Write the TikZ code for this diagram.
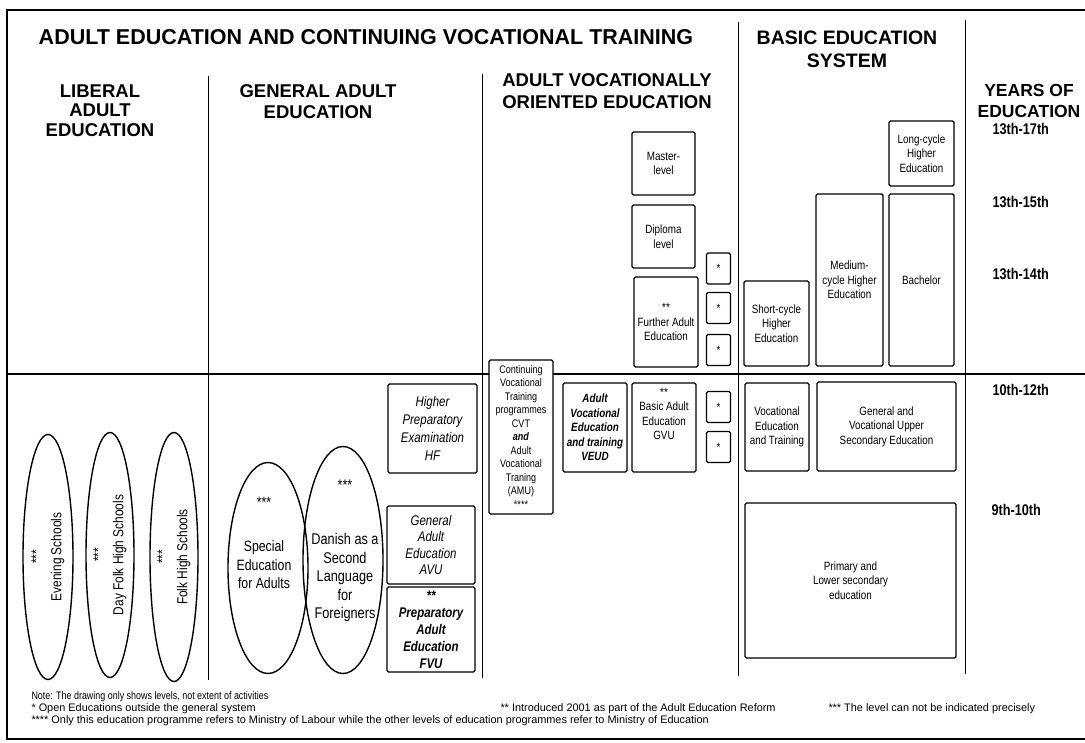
\documentclass[tikz,border=0pt]{standalone}
\usepackage{fontspec}
\setmainfont{Liberation Sans}
\newfontfamily\narrowsf[FakeStretch=0.82]{Liberation Sans}
\usetikzlibrary{shapes.geometric}
\newcommand{\fs}[2]{\fontsize{#1}{#2}\selectfont}

\begin{document}
\begin{tikzpicture}[x=1pt, y=-1pt, line width=1pt,
    heading/.style={font=\bfseries\fs{18.5}{21}, align=center, inner sep=0pt},
    box/.style={draw, fill=white, line width=1.4pt, rounded corners=1.5pt, inner sep=0pt,
      align=center, font=\narrowsf\fs{12}{14.5}},
    itbox/.style={box, font=\narrowsf\itshape\fs{14}{18}},
    bfbox/.style={box, font=\narrowsf\bfseries\itshape\fs{12}{14.5}},
    starbox/.style={box, minimum width=24, minimum height=31},
    oval/.style={draw, ellipse, line width=1.4pt, inner sep=0pt, align=center,
      font=\narrowsf\fs{14.5}{20}},
    txt/.style={align=center, inner sep=0pt, font=\narrowsf\fs{15}{18.5}},
    year/.style={anchor=west, inner sep=0pt, font=\narrowsf\bfseries\fs{15.5}{18}},
    note/.style={anchor=west, inner sep=0pt, font=\fs{10.9}{12}},
  ]
  \useasboundingbox (0,0) rectangle (1085,743);

  % frame and column rules
  \draw[line width=1.5pt] (1085,10) -- (7,10) -- (7,739) -- (1085,739);
  \draw[line width=1.2pt] (7,374) -- (1085,374);
  \draw (208,76) -- (208,680);
  \draw (482,74) -- (482,678);
  \draw (738,22) -- (738,676);
  \draw (965,20) -- (965,674);

  % headings
  \node[heading, font=\bfseries\fs{21.5}{24}] (title) at (366,37.5)
    {ADULT EDUCATION AND CONTINUING VOCATIONAL TRAINING};
  \node[heading, font=\bfseries\fs{19.5}{23}] (basic) at (847,49.5) {BASIC EDUCATION\\SYSTEM};
  \node[heading, font=\bfseries\fs{18.5}{19.5}] (lib) at (100,110.5) {LIBERAL\\ADULT\\EDUCATION};
  \node[heading] (gen) at (318,101.5) {GENERAL ADULT\\EDUCATION};
  \node[heading, font=\bfseries\fs{18.5}{22}] (voc) at (607,91.5) {ADULT VOCATIONALLY\\ORIENTED EDUCATION};
  \node[heading, font=\bfseries\fs{17.5}{21}] (years) at (1029,100.5) {YEARS OF\\EDUCATION};

  % years of education
  \node[year] (y1) at (992,129) {13th-17th};
  \node[year] (y2) at (992,202) {13th-15th};
  \node[year] (y3) at (992,274) {13th-14th};
  \node[year] (y4) at (992,390) {10th-12th};
  \node[year] (y5) at (991,510) {9th-10th};

  % liberal adult education
  \node[oval, rotate=90, minimum width=245, minimum height=50] (evening) at (48,557) {***\\Evening Schools};
  \node[oval, rotate=90, minimum width=245, minimum height=48] (dayfolk) at (110,555) {***\\Day Folk High Schools};
  \node[oval, rotate=90, minimum width=249, minimum height=48] (folk) at (174,557) {***\\Folk High Schools};

  % general adult education
  \node[oval, minimum width=80, minimum height=211] (special) at (268,568) {};
  \node[txt] (specialtxt) at (264,543) {***\\[26pt]Special\\Education\\for Adults};
  \node[oval, minimum width=80, minimum height=227] (danish) at (343,560) {};
  \node[txt, font=\narrowsf\fs{15.5}{18.5}] (danishtxt) at (345,551)
    {***\\[36pt]Danish as a\\Second\\Language\\for\\Foreigners};
  \node[itbox, minimum width=89, minimum height=89] (hf) at (432.5,428.5) {Higher\\Preparatory\\Examination\\HF};
  \node[itbox, font=\narrowsf\itshape\fs{14}{16.5}, minimum width=88, minimum height=78] (avu) at (431,545)
    {General\\Adult\\Education\\AVU};
  \node[bfbox, font=\narrowsf\bfseries\itshape\fs{14}{17}, minimum width=88, minimum height=85] (fvu) at (431,629.5)
    {**\\Preparatory\\Adult\\Education\\FVU};

  % adult vocationally oriented education
  \node[box, font=\narrowsf\fs{11}{13.5}, minimum width=64, minimum height=154] (cvt) at (521,437)
    {Continuing\\Vocational\\Training\\programmes\\CVT\\\textbf{\textit{and}}\\Adult\\Vocational\\Traning\\(AMU)\\****};
  \node[bfbox, minimum width=64, minimum height=89] (veud) at (595,427.5)
    {Adult\\Vocational\\Education\\and training\\VEUD};
  \node[box, minimum width=64, minimum height=89] (gvu) at (664,427.5) {};
  \node[txt, font=\narrowsf\fs{12}{14.5}] (gvutxt) at (664,414) {**\\Basic Adult\\Education\\GVU};
  \node[box, minimum width=63, minimum height=63] (master) at (663.5,163.5) {Master-\\level};
  \node[box, minimum width=63, minimum height=63] (diploma) at (663.5,236.5) {Diploma\\level};
  \node[box, minimum width=64, minimum height=90] (further) at (666,322) {**\\Further Adult\\Education};
  \node[starbox] (s1) at (718.5,268.5) {*};
  \node[starbox] (s2) at (718.5,308) {*};
  \node[starbox] (s3) at (718.5,350) {*};
  \node[starbox] (s4) at (718.5,407) {*};
  \node[starbox] (s5) at (718.5,447) {*};

  % basic education system
  \node[box, minimum width=65, minimum height=65] (long) at (921.5,153.5) {Long-cycle\\Higher\\Education};
  \node[box, minimum width=67, minimum height=172] (medium) at (849.5,280) {Medium-\\cycle Higher\\Education};
  \node[box, minimum width=65, minimum height=172] (bachelor) at (921.5,280) {Bachelor};
  \node[box, minimum width=65, minimum height=85] (short) at (776.5,323.5) {Short-cycle\\Higher\\Education};
  \node[box, minimum width=64, minimum height=88] (vet) at (777,427) {Vocational\\Education\\and Training};
  \node[box, minimum width=139, minimum height=89] (upper) at (886.5,426.5)
    {General and\\Vocational Upper\\Secondary Education};
  \node[box, minimum width=211, minimum height=155] (primary) at (850.5,580.5)
    {Primary and\\Lower secondary\\education};

  % notes
  \node[note, font=\narrowsf\fs{10.9}{12}] (n1) at (31,697) {Note: The drawing only shows levels, not extent of activities};
  \node[note] (n2) at (31,709) {* Open Educations outside the general system};
  \node[note] (n3) at (31,721) {**** Only this education programme refers to Ministry of Labour while the other levels of education programmes refer to Ministry of Education};
  \node[note] (n4) at (500,709) {** Introduced 2001 as part of the Adult Education Reform};
  \node[note] (n5) at (828,709) {*** The level can not be indicated precisely};
\end{tikzpicture}
\end{document}
